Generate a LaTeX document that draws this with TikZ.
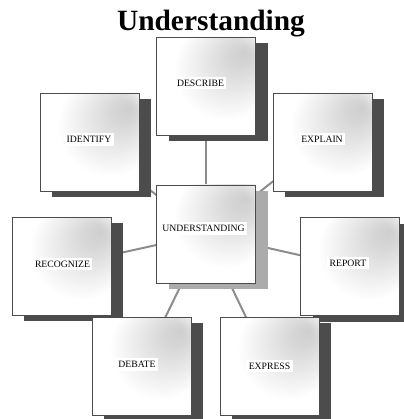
\documentclass[tikz,border=0pt]{standalone}
\usepackage{fontspec}
\setmainfont{Liberation Serif}
\usetikzlibrary{shadows,backgrounds}

% soft grey glow towards the upper right of every card
\pgfdeclareradialshading{cardglow}{\pgfpoint{20bp}{18bp}}{%
  color(0bp)=(black!19); color(6bp)=(black!16); color(26bp)=(white); color(50bp)=(white)}

\tikzset{
  card/.style={draw=black!70, line width=0.6pt, shade, shading=cardglow,
    minimum width=99pt, minimum height=98pt, inner sep=0pt,
    drop shadow={shadow xshift=12pt, shadow yshift=-6pt, fill=black!70, opacity=1}},
  hubcard/.style={card,
    drop shadow={shadow xshift=12pt, shadow yshift=-6pt, fill=black!33, opacity=1}},
  cardtext/.style={fill=white, inner xsep=2.5pt, inner ysep=3pt,
    font=\fontsize{9.7}{10}\selectfont},
  spoke/.style={draw=black!45, line width=2pt}
}

\begin{document}
\begin{tikzpicture}[x=1pt, y=-1pt]
\useasboundingbox (0,0) rectangle (403,419);

\node[font=\fontsize{29.4}{30}\selectfont\bfseries, anchor=base, inner sep=0pt]
  (title) at (211,31) {Understanding};

% cards
\node[card]    (describe)  at (206,86.5)  {};
\node[card]    (identify)  at (89.5,142.5) {};
\node[card]    (explain)   at (322.5,142.5) {};
\node[hubcard] (hub)       at (206,234)   {};
\node[card]    (recognize) at (61.5,266)  {};
\node[card]    (report)    at (350,266.5) {};
\node[card]    (debate)    at (141.5,366) {};
\node[card]    (express)   at (269.5,366) {};

% card captions
\node[cardtext] (tdescribe)  at (200.5,83)  {DESCRIBE};
\node[cardtext] (tidentify)  at (89,139.5)  {IDENTIFY};
\node[cardtext] (texplain)   at (322,139)   {EXPLAIN};
\node[cardtext] (thub)       at (203.5,228.5) {UNDERSTANDING};
\node[cardtext] (trecognize) at (62.5,264)  {RECOGNIZE};
\node[cardtext] (treport)    at (348,263)   {REPORT};
\node[cardtext] (tdebate)    at (137,364.5) {DEBATE};
\node[cardtext] (texpress)   at (269.5,366) {EXPRESS};

% spokes from the hub, behind the cards
\begin{pgfonlayer}{background}
  \foreach \c in {describe,identify,explain,recognize,report,debate,express}
    \draw[spoke] (hub.center) -- (\c.center);
\end{pgfonlayer}
\end{tikzpicture}
\end{document}
